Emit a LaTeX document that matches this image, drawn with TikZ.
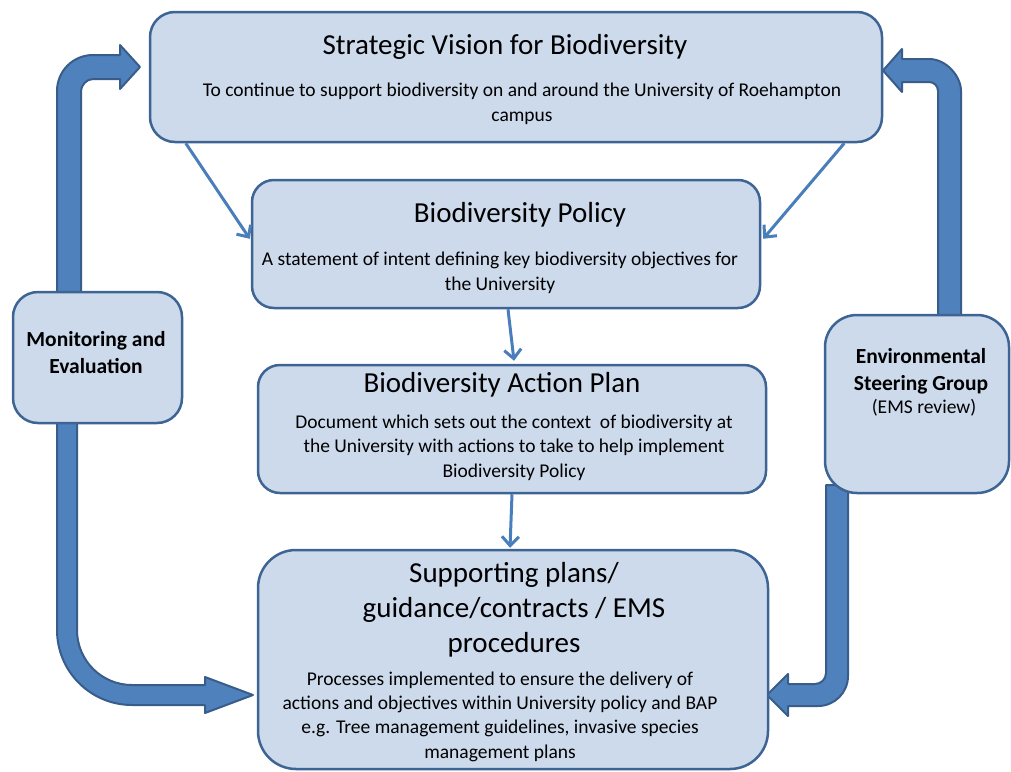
\documentclass[tikz,border=0pt]{standalone}
\usepackage{fontspec}
\setmainfont{Carlito}
\usetikzlibrary{arrows.meta,calc}
\definecolor{boxfill}{RGB}{204,218,236}
\definecolor{boxline}{RGB}{62,100,148}
\definecolor{thinarrow}{RGB}{74,126,187}
\definecolor{bigfill}{RGB}{79,129,189}
\definecolor{bigline}{RGB}{56,93,138}
\tikzset{
  box/.style={draw=boxline, fill=boxfill, line width=2.5pt, inner sep=0pt},
  ttl/.style={anchor=base, align=center, inner sep=0pt, font=\fontsize{29}{35}\selectfont},
  bdy/.style={anchor=base, align=center, inner sep=0pt, font=\fontsize{19.5}{24.3}\selectfont},
  side/.style={anchor=base, align=center, inner sep=0pt, font=\fontsize{21.5}{26.5}\selectfont\bfseries},
  thin/.style={draw=thinarrow, line width=3pt, -{Straight Barb[length=9pt,width=17pt]}},
  big/.style={fill=bigfill, draw=bigline, line width=2pt, line join=round}
}
\begin{document}
\begin{tikzpicture}[x=1pt,y=-1pt]
\useasboundingbox (0,0) rectangle (1011,771);
% big arrows (drawn first, boxes cover their ends)
\draw[big] (57,300) -- (57,91) .. controls (57,71.1) and (73.1,55) .. (93,55) -- (120,55) -- (120,45) -- (140,67) -- (120,89) -- (120,79) -- (93,79) .. controls (86.4,79) and (81,85.6) .. (81,91) -- (81,300) -- cycle;
\draw[big] (57,415) -- (57,630) .. controls (57,671.4) and (90.6,705) .. (132,705) -- (205,705) -- (205,713) -- (253,695) -- (205,677) -- (205,685) -- (132,685) .. controls (101.6,685) and (77,660.4) .. (77,630) -- (77,415) -- cycle;
\draw[big] (938,320) -- (938,91) .. controls (938,86) and (934,82) .. (929,82) -- (902,82) -- (902,92) -- (883,70.5) -- (902,49) -- (902,59) -- (929,59) .. controls (946.7,59) and (961,76.7) .. (961,91) -- (961,320) -- cycle;
\draw[big] (826,485) -- (826,673) .. controls (826,679.1) and (821.1,684) .. (815,684) -- (788,684) -- (788,674) -- (767,695) -- (788,716) -- (788,706) -- (818,706) .. controls (834.6,706) and (848,692.6) .. (848,676) -- (848,485) -- cycle;
% boxes
\node[box, rounded corners=25pt, minimum width=732pt, minimum height=130pt] (vision) at (516,77) {};
\node[box, rounded corners=22pt, minimum width=508pt, minimum height=128pt] (policy) at (506,244) {};
\node[box, rounded corners=22pt, minimum width=508pt, minimum height=128pt] (action) at (512,429) {};
\node[box, rounded corners=38pt, minimum width=510pt, minimum height=219pt] (support) at (513,659.5) {};
\node[box, rounded corners=25pt, minimum width=169pt, minimum height=131pt] (monitor) at (97.5,357.5) {};
\node[box, rounded corners=32pt, minimum width=184pt, minimum height=178pt] (env) at (917,404) {};
% texts (anchor=base of a multi-line node is the baseline of its last line)
\node[ttl] (visiont) at (505,54) {Strategic Vision for Biodiversity};
\node[bdy] (visionb) at (522,121) {To continue to support biodiversity on and around the University of Roehampton\\campus};
\node[ttl] (policyt) at (520,222) {Biodiversity Policy};
\node[bdy] (policyb) at (500,290) {A statement of intent defining key biodiversity objectives for\\the University};
\node[ttl] (actiont) at (502,392) {Biodiversity Action Plan};
\node[bdy] (actionb) at (514,477) {Document which sets out the context\ \ of biodiversity at\\the University with actions to take to help implement\\Biodiversity Policy};
\node[ttl] (supportt) at (514,652) {Supporting plans/\\guidance/contracts / EMS\\procedures};
\node[bdy] (supportb) at (500,758) {Processes implemented to ensure the delivery of\\actions and objectives within University policy and BAP\\e.g. Tree management guidelines, invasive species\\management plans};
\node[side] (monitort) at (96,373) {Monitoring and\\Evaluation};
\node[side] (envt) at (921,390) {Environmental\\Steering Group};
\node[bdy, font=\fontsize{19.5}{24}\selectfont] (envb) at (924,413) {(EMS review)};
% thin arrows
\draw[thin] ($(vision.south west)+(37,0)$) -- ($(policy.north west)+(-1,60)$);
\draw[thin] ($(vision.south east)+(-39,0)$) -- ($(policy.north east)+(2,60)$);
\draw[thin] ($(policy.south)+(2,0)$) -- ($(action.north)+(2,-3)$);
\draw[thin] (action.south) -- ($(support.north)+(-3,-1)$);
\end{tikzpicture}
\end{document}
